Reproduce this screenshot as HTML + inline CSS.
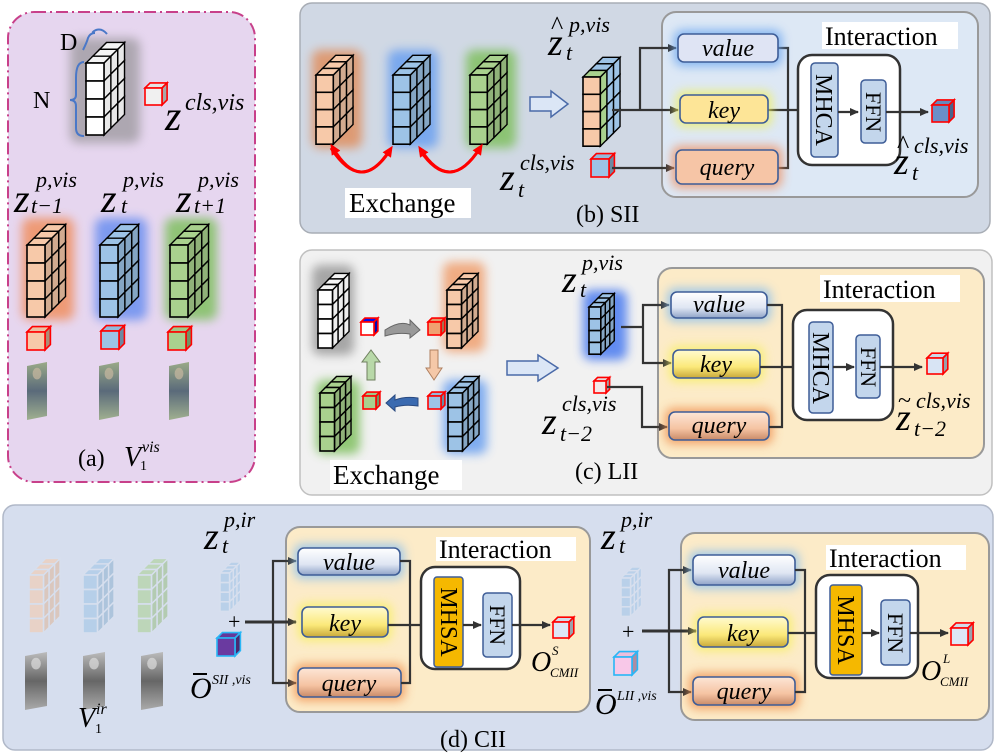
<!DOCTYPE html>
<html><head><meta charset="utf-8"><style>
html,body{margin:0;padding:0;background:#fff;}
svg{display:block;font-family:"Liberation Serif","DejaVu Serif","Times New Roman",serif;}
svg text{font-family:"Liberation Serif","DejaVu Serif","Times New Roman",serif !important;}
.it{font-style:italic;}
</style></head><body>
<svg id="s" width="997" height="754" viewBox="0 0 997 754" xmlns="http://www.w3.org/2000/svg" font-family="Liberation Serif, DejaVu Serif, serif">
<defs>
<filter id="gl" x="-50%" y="-50%" width="200%" height="200%"><feGaussianBlur stdDeviation="5"/></filter>
<marker id="ar" markerWidth="10" markerHeight="10" refX="8" refY="5" orient="auto" markerUnits="userSpaceOnUse"><path d="M0,1 L9,5 L0,9 Z" fill="#333"/></marker>
<marker id="rr" markerWidth="12" markerHeight="12" refX="6" refY="6" orient="auto" markerUnits="userSpaceOnUse"><path d="M0,1 L11,6 L0,11 Z" fill="#f00"/></marker>
<linearGradient id="gv" x1="0" y1="0" x2="0" y2="1"><stop offset="0" stop-color="#ffffff"/><stop offset="0.6" stop-color="#dfe6f3"/><stop offset="1" stop-color="#8fa3c8"/></linearGradient>
<linearGradient id="gk" x1="0" y1="0" x2="0" y2="1"><stop offset="0" stop-color="#fffbd0"/><stop offset="0.6" stop-color="#fbe97a"/><stop offset="1" stop-color="#c9a93a"/></linearGradient>
<linearGradient id="gq" x1="0" y1="0" x2="0" y2="1"><stop offset="0" stop-color="#fde6d6"/><stop offset="0.6" stop-color="#f5c3a2"/><stop offset="1" stop-color="#c98a68"/></linearGradient>
<linearGradient id="gp" x1="0" y1="0" x2="0" y2="1"><stop offset="0" stop-color="#9aaa88"/><stop offset="0.5" stop-color="#5a6a7a"/><stop offset="1" stop-color="#a0b090"/></linearGradient>
<linearGradient id="gg" x1="0" y1="0" x2="0" y2="1"><stop offset="0" stop-color="#bbb"/><stop offset="0.5" stop-color="#666"/><stop offset="1" stop-color="#aaa"/></linearGradient>
</defs>

<rect x="8" y="12" width="247" height="470" rx="26" fill="#e6d6ef" stroke="#c8408a" stroke-width="2" stroke-dasharray="12,4,2,4"/>
<rect x="300" y="3" width="690" height="230" rx="12" fill="#d0d8e4" stroke="#a8adb5" stroke-width="1.5"/>
<rect x="300" y="250" width="692" height="245" rx="12" fill="#f1f1f1" stroke="#c0c0c0" stroke-width="1.5"/>
<rect x="3" y="505" width="990" height="245" rx="12" fill="#d6deee" stroke="#b0b8c8" stroke-width="1.5"/>

<rect x="662" y="12" width="316" height="185" rx="14" fill="#dde8f5" stroke="#999" stroke-width="2"/>
<rect x="658" y="268" width="326" height="190" rx="14" fill="#fcebc8" stroke="#999" stroke-width="2"/>
<rect x="286" y="527" width="304" height="185" rx="14" fill="#fcebc8" stroke="#999" stroke-width="2"/>
<rect x="681" y="533" width="308" height="187" rx="14" fill="#fcebc8" stroke="#999" stroke-width="2"/>

<g id="dyn"></g>

<text x="60" y="50" font-size="24">D</text>
<text x="33" y="108" font-size="24">N</text>
<text x="165" y="130" font-size="42" class="it">z</text>
<text x="185" y="110" font-size="24" class="it">cls,vis</text>
<text x="14" y="212" font-size="40" class="it">z</text>
<text x="36" y="187" font-size="22" class="it">p,vis</text>
<text x="31" y="213" font-size="22" class="it">t−1</text>
<text x="101" y="212" font-size="40" class="it">z</text>
<text x="123" y="187" font-size="22" class="it">p,vis</text>
<text x="121" y="213" font-size="22" class="it">t</text>
<text x="176" y="212" font-size="40" class="it">z</text>
<text x="198" y="187" font-size="22" class="it">p,vis</text>
<text x="194" y="213" font-size="22" class="it">t+1</text>
<text x="78" y="466" font-size="24">(a)</text>
<text x="124" y="466" font-size="28" class="it">V</text>
<text x="140" y="470" font-size="14">1</text>
<text x="142" y="452" font-size="16" class="it">vis</text>

<rect x="345" y="188" width="126" height="30" fill="#fff"/>
<text x="349" y="212" font-size="27">Exchange</text>
<text x="548" y="55" font-size="38" class="it">z</text>
<text x="551" y="34" font-size="26">^</text>
<text x="569" y="32" font-size="22" class="it">p,vis</text>
<text x="566" y="60" font-size="22" class="it">t</text>
<text x="500" y="190" font-size="38" class="it">z</text>
<text x="520" y="170" font-size="22" class="it">cls,vis</text>
<text x="518" y="197" font-size="22" class="it">t</text>
<text x="576" y="222" font-size="24">(b) SII</text>
<rect x="822" y="22" width="136" height="27" fill="#fff"/>
<text x="825" y="45" font-size="26">Interaction</text>
<text x="894" y="174" font-size="38" class="it">z</text>
<text x="897" y="153" font-size="26">^</text>
<text x="914" y="153" font-size="22" class="it">cls,vis</text>
<text x="912" y="180" font-size="22" class="it">t</text>

<rect x="330" y="460" width="132" height="30" fill="#fff"/>
<text x="333" y="484" font-size="27">Exchange</text>
<text x="562" y="292" font-size="38" class="it">z</text>
<text x="582" y="270" font-size="22" class="it">p,vis</text>
<text x="580" y="297" font-size="22" class="it">t</text>
<text x="542" y="434" font-size="38" class="it">z</text>
<text x="562" y="411" font-size="22" class="it">cls,vis</text>
<text x="560" y="441" font-size="22" class="it">t−2</text>
<text x="575" y="479" font-size="24">(c) LII</text>
<rect x="820" y="275" width="140" height="27" fill="#fff"/>
<text x="823" y="298" font-size="26">Interaction</text>
<text x="896" y="430" font-size="38" class="it">z</text>
<text x="898" y="408" font-size="24">~</text>
<text x="916" y="408" font-size="22" class="it">cls,vis</text>
<text x="914" y="436" font-size="22" class="it">t−2</text>

<text x="78" y="727" font-size="28" class="it">V</text>
<text x="95" y="733" font-size="14">1</text>
<text x="96" y="714" font-size="16" class="it">ir</text>
<text x="204" y="549" font-size="38" class="it">z</text>
<text x="224" y="527" font-size="22" class="it">p,ir</text>
<text x="222" y="553" font-size="22" class="it">t</text>
<text x="228" y="629" font-size="22">+</text>
<text x="190" y="698" font-size="30" class="it">O</text>
<rect x="193" y="673" width="14" height="2" fill="#000"/>
<text x="212" y="684" font-size="14" class="it">SII ,vis</text>
<rect x="436" y="537" width="140" height="24" fill="#fff"/>
<text x="439" y="558" font-size="26">Interaction</text>
<text x="531" y="671" font-size="28" class="it">O</text>
<text x="552" y="655" font-size="13" class="it">S</text>
<text x="550" y="677" font-size="13" class="it">CMII</text>
<text x="601" y="549" font-size="38" class="it">z</text>
<text x="621" y="527" font-size="22" class="it">p,ir</text>
<text x="619" y="553" font-size="22" class="it">t</text>
<text x="622" y="639" font-size="22">+</text>
<text x="595" y="714" font-size="30" class="it">O</text>
<rect x="598" y="689" width="14" height="2" fill="#000"/>
<text x="617" y="700" font-size="14" class="it">LII ,vis</text>
<rect x="826" y="545" width="140" height="25" fill="#fff"/>
<text x="829" y="567" font-size="26">Interaction</text>
<text x="921" y="680" font-size="28" class="it">O</text>
<text x="943" y="663" font-size="13" class="it">L</text>
<text x="940" y="686" font-size="13" class="it">CMII</text>
<text x="440" y="747" font-size="24">(d) CII</text>

<text x="728" y="56" font-size="24" class="it" text-anchor="middle">value</text>
<text x="724" y="118" font-size="24" class="it" text-anchor="middle">key</text>
<text x="727" y="175" font-size="24" class="it" text-anchor="middle">query</text>
<text x="719" y="312" font-size="24" class="it" text-anchor="middle">value</text>
<text x="716" y="372" font-size="24" class="it" text-anchor="middle">key</text>
<text x="719" y="433" font-size="24" class="it" text-anchor="middle">query</text>
<text x="349" y="570" font-size="24" class="it" text-anchor="middle">value</text>
<text x="345" y="631" font-size="24" class="it" text-anchor="middle">key</text>
<text x="349" y="691" font-size="24" class="it" text-anchor="middle">query</text>
<text x="744" y="578" font-size="24" class="it" text-anchor="middle">value</text>
<text x="743" y="641" font-size="24" class="it" text-anchor="middle">key</text>
<text x="744" y="699" font-size="24" class="it" text-anchor="middle">query</text>
<text transform="translate(816,110) rotate(90)" font-size="24" text-anchor="middle">MHCA</text>
<text transform="translate(866,112) rotate(90)" font-size="22" text-anchor="middle">FFN</text>
<text transform="translate(813,368) rotate(90)" font-size="24" text-anchor="middle">MHCA</text>
<text transform="translate(861,367) rotate(90)" font-size="22" text-anchor="middle">FFN</text>
<text transform="translate(441,622) rotate(90)" font-size="24" text-anchor="middle">MHSA</text>
<text transform="translate(490,625) rotate(90)" font-size="22" text-anchor="middle">FFN</text>
<text transform="translate(838,630) rotate(90)" font-size="24" text-anchor="middle">MHSA</text>
<text transform="translate(888,633) rotate(90)" font-size="22" text-anchor="middle">FFN</text>
</svg>
<script>
var NS="http://www.w3.org/2000/svg";
var dyn=document.getElementById("dyn");
function el(t,a,p){var e=document.createElementNS(NS,t);for(var k in a)e.setAttribute(k,a[k]);(p||dyn).appendChild(e);return e;}
function shade(c,f){var n=parseInt(c.slice(1),16);var r=(n>>16)&255,g=(n>>8)&255,b=n&255;return "rgb("+Math.round(r*f)+","+Math.round(g*f)+","+Math.round(b*f)+")";}
function glow(x,y,w,h,c,op){el("rect",{x:x,y:y,width:w,height:h,rx:8,fill:c,opacity:op||0.85,filter:"url(#gl)"});}
function stack(x,y,s,rows,cols,fronts,sides,tops,op,stroke){
  var d=s*0.38;var g=el("g",{opacity:op||1});var sw=stroke||"#000";
  for(var c=cols-1;c>=0;c--){
    for(var r=0;r<rows;r++){
      el("polygon",{points:[x+s+c*d,y+r*s-c*d, x+s+(c+1)*d,y+r*s-(c+1)*d, x+s+(c+1)*d,y+(r+1)*s-(c+1)*d, x+s+c*d,y+(r+1)*s-c*d].join(" "),fill:sides[c%sides.length],stroke:sw,"stroke-width":1.4},g);
    }
    el("polygon",{points:[x+c*d,y-c*d, x+s+c*d,y-c*d, x+s+(c+1)*d,y-(c+1)*d, x+(c+1)*d,y-(c+1)*d].join(" "),fill:tops[c%tops.length],stroke:sw,"stroke-width":1.4},g);
  }
  for(var r=0;r<rows;r++) el("rect",{x:x,y:y+r*s,width:s,height:s,fill:fronts,stroke:sw,"stroke-width":1.6},g);
}
function cube(x,y,s,f,st){var d=s*0.3;var g=el("g",{});
  el("polygon",{points:[x,y,x+s,y,x+s+d,y-d,x+d,y-d].join(" "),fill:shade(f,0.95),stroke:st,"stroke-width":1.6},g);
  el("polygon",{points:[x+s,y,x+s+d,y-d,x+s+d,y+s-d,x+s,y+s].join(" "),fill:shade(f,0.7),stroke:st,"stroke-width":1.6},g);
  el("rect",{x:x,y:y,width:s,height:s,fill:f,stroke:st,"stroke-width":1.6},g);}
function line(pts,arrow,col,w){el("polyline",{points:pts.join(" "),fill:"none",stroke:col||"#333","stroke-width":w||2.2,"marker-end":arrow?"url(#ar)":""});}
function box(x,y,w,h,fill,glowc){ if(glowc) el("rect",{x:x-4,y:y-4,width:w+8,height:h+8,rx:8,fill:glowc,opacity:0.8,filter:"url(#gl)"});
  el("rect",{x:x,y:y,width:w,height:h,rx:6,fill:fill,stroke:"#3e5d97","stroke-width":1.6});}
function person(x,y,w,h,gray){el("polygon",{points:[x,y+4,x+w,y,x+w,y+h-4,x,y+h].join(" "),fill:gray?"url(#gg)":"url(#gp)"});
  el("ellipse",{cx:x+w/2,cy:y+h*0.2,rx:w*0.22,ry:h*0.1,fill:gray?"#ddd":"#c8b8a0",opacity:0.7});}

var OR="#f7c9a9",BL="#9dc3e6",GR="#a9d18e",WH="#ffffff";
glow(70,38,70,105,"#888",0.6);
el("path",{d:"M84,62 Q76,62 76,78 L76,95 Q76,100 70,100 Q76,100 76,106 L76,128 Q76,136 84,136",fill:"none",stroke:"#4a78c8","stroke-width":2});
el("path",{d:"M83,50 Q87,42 88,38 Q90,33 95,33 Q90,33 96,30 Q102,28 107,34",fill:"none",stroke:"#4a78c8","stroke-width":2});
stack(86,63,18,4,3,WH,["#e8e8e8"],["#f4f4f4"]);
cube(145,88,17,"#f0f0f0","#f00");
glow(22,218,52,102,"#f09060");glow(95,218,52,102,"#6a8ff0");glow(165,218,52,102,"#80c060");
stack(27,245,18,4,3,OR,[shade(OR,0.85)],[OR]);
stack(100,245,18,4,3,BL,[shade(BL,0.85)],[BL]);
stack(170,245,18,4,3,GR,[shade(GR,0.85)],[GR]);
cube(27,332,18,OR,"#f00");cube(101,331,18,BL,"#f00");cube(168,332,18,GR,"#f00");
person(27,362,20,58);person(99,362,20,58);person(169,362,20,58);

glow(312,50,50,98,"#e09060");glow(388,50,50,98,"#6aa0f0");glow(466,50,50,98,"#80c060");
stack(316,75,17.3,4,3,OR,[shade(OR,0.85)],[OR]);
stack(393,75,17.3,4,3,BL,[shade(BL,0.85)],[BL]);
stack(470,75,17.3,4,3,GR,[shade(GR,0.85)],[GR]);
el("path",{d:"M331,148 Q361,195 390,150",fill:"none",stroke:"#f00","stroke-width":3,"marker-end":"url(#rr)"});
el("path",{d:"M390,150 Q361,195 333,148",fill:"none",stroke:"#f00","stroke-width":3,"marker-end":"url(#rr)"});
el("path",{d:"M420,150 Q450,195 480,148",fill:"none",stroke:"#f00","stroke-width":3,"marker-end":"url(#rr)"});
el("path",{d:"M480,148 Q450,195 421,150",fill:"none",stroke:"#f00","stroke-width":3,"marker-end":"url(#rr)"});
el("polygon",{points:"530,97 551,97 551,91 568,104 551,117 551,111 530,111",fill:"#dbe6f6",stroke:"#4a6aa8","stroke-width":1.5});
stack(583,77,17.3,4,3,OR,[GR,BL,BL],[GR,BL,BL]);
cube(591,159,18,BL,"#f00");
line([612,110,640,110]);line([640,110,640,48,676,48],1);line([640,110,678,110],1);
line([612,168,674,168],1);
line([778,48,788,48,788,168,778,168]);line([768,110,808,110],1);
box(678,34,100,28,"#dfe4f4","#6aa6f0");box(680,95,88,28,"#fde597","#f0f060");box(676,150,102,34,"#f6c5a6","#f09060");
el("rect",{x:798,y:55,width:102,height:110,rx:14,fill:"#fff",stroke:"#333","stroke-width":2.5});
el("rect",{x:811,y:63,width:27,height:94,rx:4,fill:"#c3d6ec",stroke:"#3e5d97","stroke-width":1.5});
el("rect",{x:861,y:80,width:25,height:63,rx:4,fill:"#c3d6ec",stroke:"#3e5d97","stroke-width":1.5});
line([838,112,858,112],1);line([886,112,928,112],1);
cube(932,105,17,"#6a8fc8","#f00");

glow(312,265,42,90,"#999");glow(443,262,42,90,"#f0a070");glow(316,380,44,74,"#80c060");glow(443,380,44,74,"#6aa0f0");
stack(318,290,14.5,4,3,WH,["#eee"],["#f4f4f4"]);
stack(447,290,14.5,4,3,OR,[shade(OR,0.85)],[OR]);
stack(320,393,14.5,4,3,GR,[shade(GR,0.85)],[GR]);
stack(448,393,14.5,4,3,BL,[shade(BL,0.85)],[BL]);
cube(361,322,13,"#fff","#f00");cube(428,322,13,"#f0a070","#f00");cube(363,396,13,GR,"#f00");cube(428,396,13,BL,"#f00");
el("path",{d:"M385,330 Q400,320 410,325 L410,320 L420,330 L410,338 L410,334 Q398,332 385,336 Z",fill:"#999",stroke:"#666"});
el("path",{d:"M430,350 L438,350 L438,368 L442,368 L434,380 L426,368 L430,368 Z",fill:"#f5c8a8",stroke:"#b08060"});
el("path",{d:"M418,398 Q405,396 395,400 L395,395 L386,403 L395,411 L395,407 Q405,404 418,406 Z",fill:"#3a6ab0",stroke:"#2a4a80"});
el("path",{d:"M367,380 L375,380 L375,362 L380,362 L371,350 L362,362 L367,362 Z",fill:"#b8d8a8",stroke:"#708060"});
el("polygon",{points:"507,361 538,361 538,355 558,368 538,381 538,375 507,375",fill:"#dbe6f6",stroke:"#4a6aa8","stroke-width":1.5});
glow(583,290,44,70,"#4a7af0");
stack(589,307,11.8,4,3,BL,[shade(BL,0.85)],[BL]);
cube(594,381,12,"#f4e8e8","#f00");
line([621,327,643,327]);line([643,327,643,305,669,305],1);line([643,327,643,363,671,363],1);
line([607,387,642,387,642,427,667,427],1);
box(671,292,96,26,"url(#gv)","#8ac0f0");box(673,350,87,28,"url(#gk)","#f8f060");box(669,412,100,28,"url(#gq)","#f09050");
line([767,305,782,305,782,427,769,427]);line([760,367,805,367],1);
el("rect",{x:793,y:310,width:100,height:110,rx:14,fill:"#fff",stroke:"#333","stroke-width":2.5});
el("rect",{x:809,y:322,width:24,height:91,rx:4,fill:"#c3d6ec",stroke:"#3e5d97","stroke-width":1.5});
el("rect",{x:856,y:335,width:24,height:63,rx:4,fill:"#c3d6ec",stroke:"#3e5d97","stroke-width":1.5});
line([833,367,854,367],1);line([880,367,922,367],1);
cube(927,358,16,"#d8e4f4","#f00");

stack(29,575,14.5,4,3,OR,[shade(OR,0.9)],[OR],0.55,"#d8e0ee");
stack(83,575,14.5,4,3,BL,[shade(BL,0.9)],[BL],0.55,"#d8e0ee");
stack(137,575,14.5,4,3,GR,[shade(GR,0.9)],[GR],0.55,"#d8e0ee");
person(25,652,22,58,1);person(83,652,22,58,1);person(141,652,22,58,1);
stack(220,573,9.6,4,3,BL,[BL],[BL],0.5,"#d8e0ee");
stack(621,578,9.6,4,3,BL,[BL],[BL],0.5,"#d8e0ee");
cube(217,638,18,"#6a3aa0","#29b6f6");cube(614,657,18,"#f8c8e8","#29b6f6");
line([245,622,296,622],1,"#333",3);line([273,622,273,561,296,561],1);line([273,622,273,683,296,683],1);
box(298,548,102,27,"url(#gv)","#8ac0f0");box(302,607,86,30,"url(#gk)","#f8f060");box(298,668,103,29,"url(#gq)","#f09050");
line([400,561,410,561,410,683,401,683]);line([388,625,432,625],1);
el("rect",{x:421,y:567,width:99,height:102,rx:14,fill:"#fff",stroke:"#333","stroke-width":2.5});
el("rect",{x:434,y:577,width:29,height:90,rx:3,fill:"#f5b800",stroke:"#3e5d97","stroke-width":1.5});
el("rect",{x:483,y:593,width:29,height:64,rx:4,fill:"#c3d6ec",stroke:"#3e5d97","stroke-width":1.5});
line([463,625,481,625],1);line([512,625,550,625],1);
cube(553,622,16,"#dde6f6","#f00");
line([642,631,696,631],1,"#333",3);line([669,631,669,570,691,570],1);line([669,631,669,692,691,692],1);
box(693,555,102,30,"url(#gv)","#8ac0f0");box(698,617,90,30,"url(#gk)","#f8f060");box(693,677,102,28,"url(#gq)","#f09050");
line([795,570,805,570,805,692,795,692]);line([788,633,828,633],1);
el("rect",{x:816,y:575,width:102,height:103,rx:14,fill:"#fff",stroke:"#333","stroke-width":2.5});
el("rect",{x:830,y:585,width:32,height:90,rx:3,fill:"#f5b800",stroke:"#3e5d97","stroke-width":1.5});
el("rect",{x:881,y:600,width:29,height:65,rx:4,fill:"#c3d6ec",stroke:"#3e5d97","stroke-width":1.5});
line([862,633,879,633],1);line([910,633,948,633],1);
cube(951,628,17,"#dde6f6","#f00");
</script>
</body></html>
